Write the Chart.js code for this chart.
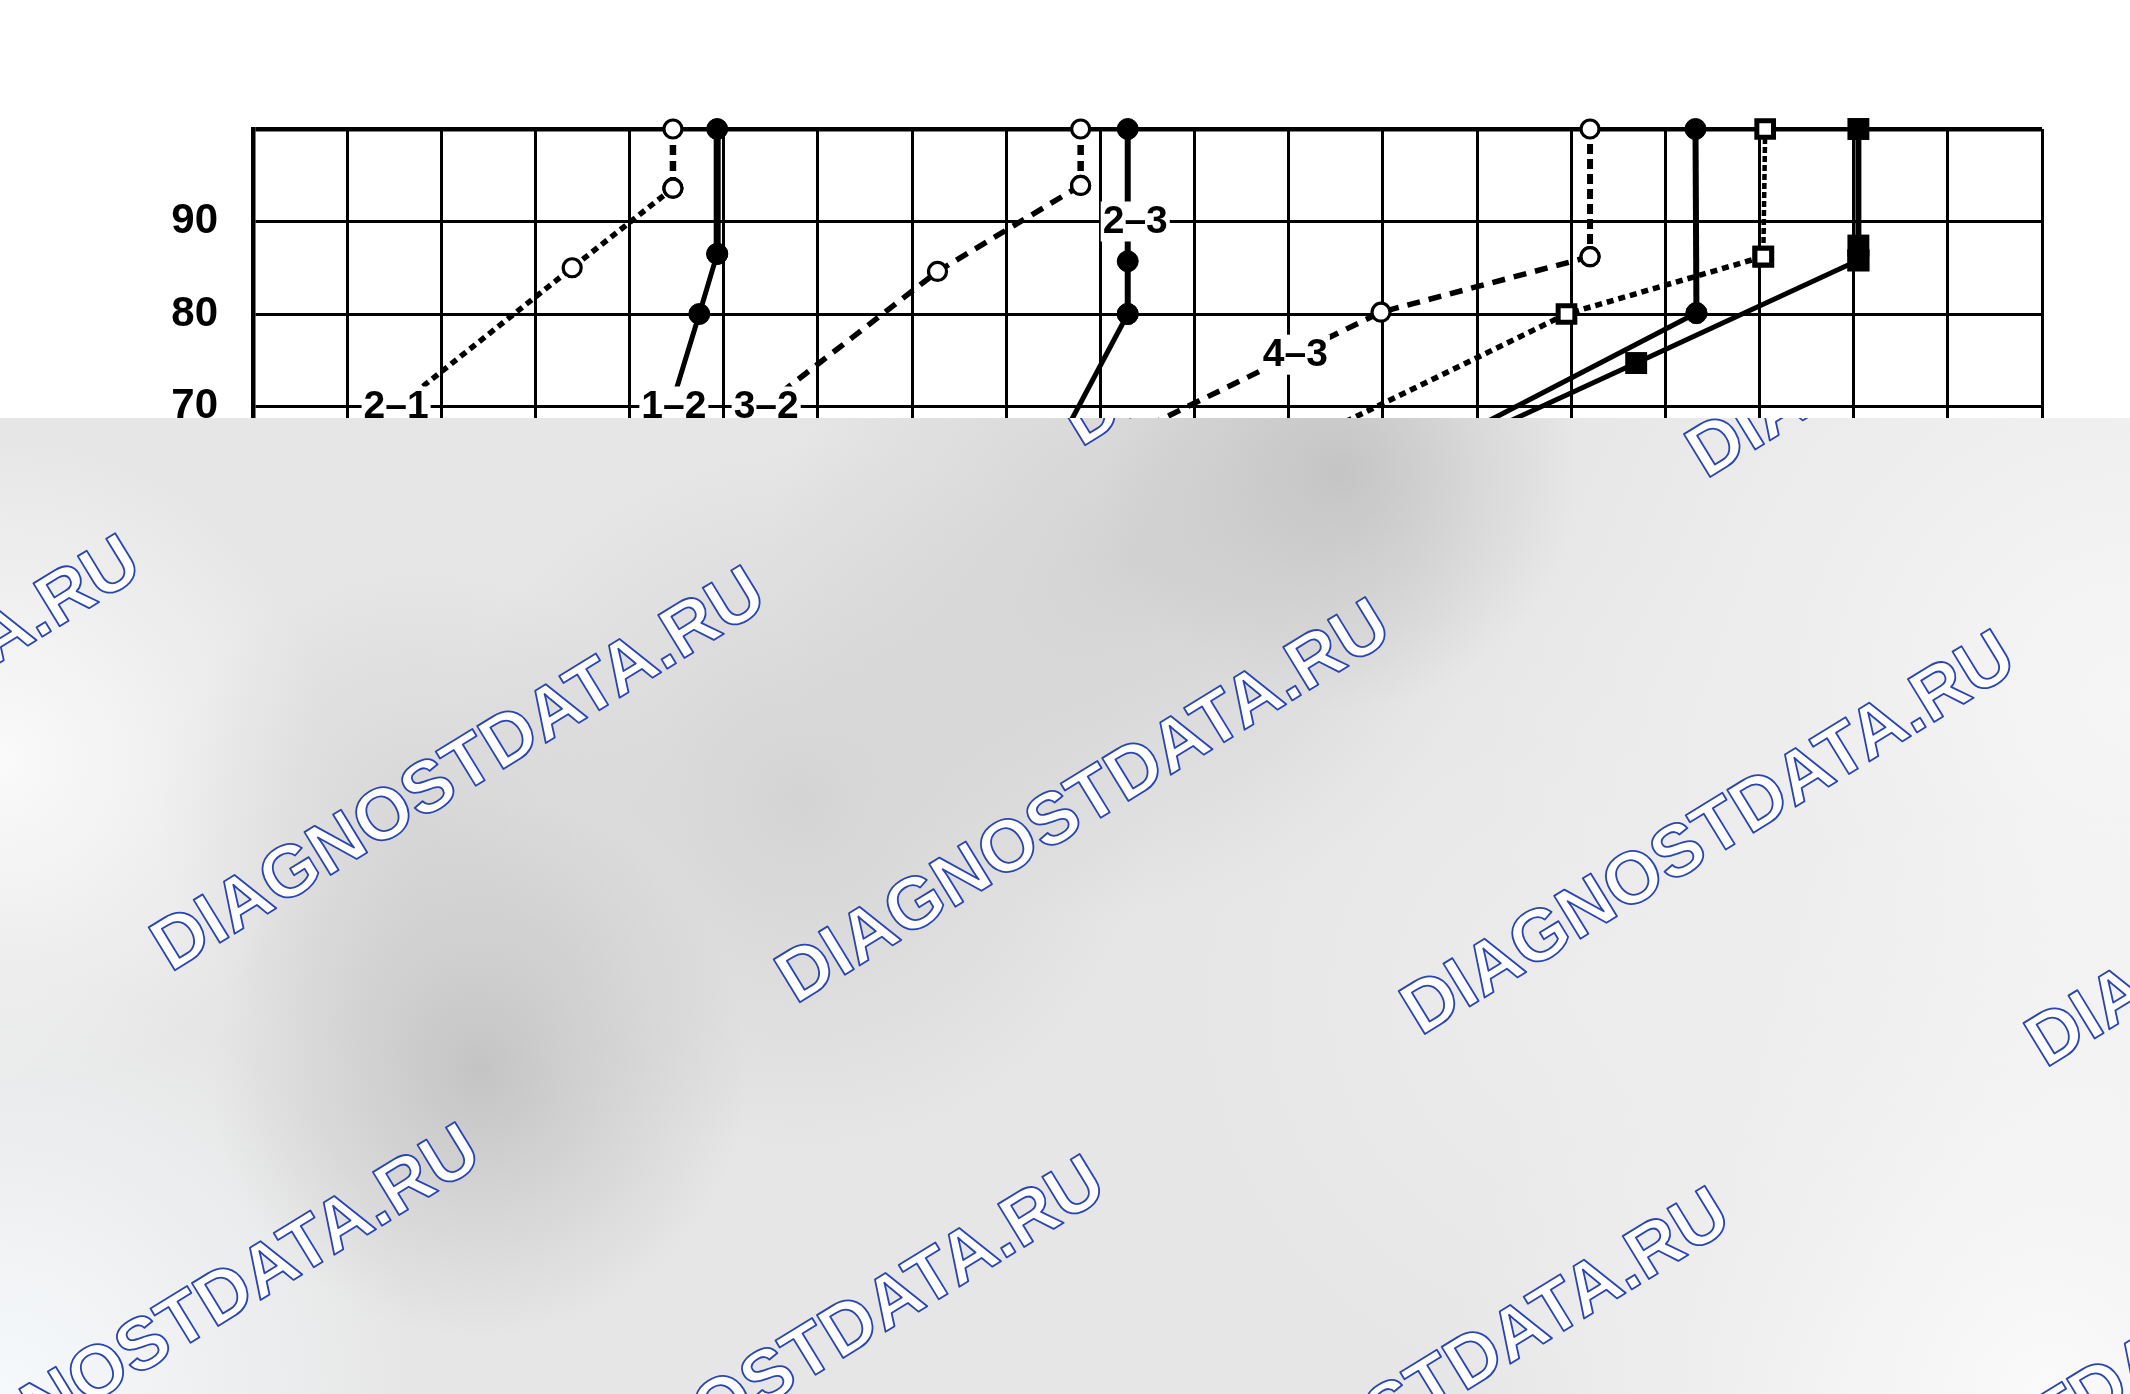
<!DOCTYPE html>
<html>
<head>
<meta charset="utf-8">
<script src="https://cdn.jsdelivr.net/npm/chart.js@4.4.1/dist/chart.umd.min.js"></script>
<style>
html,body{margin:0;padding:0;background:#ffffff;}
canvas{display:block;}
</style>
</head>
<body>
<canvas id="c" width="2130" height="1394"></canvas>
<script>
// ---- data (x: vehicle speed, y: throttle opening %) ----
const yTickValues = [0, 10, 20, 30, 40, 50, 60, 70, 80, 90, 100];
const xTickValues = [0, 10, 20, 30, 40, 50, 60, 70, 80, 90, 100, 110, 120, 130, 140, 150, 160, 170, 180, 190];

const down21X = [44.6, 44.6, 33.9, 10.4];
const down21Y = [100, 93.6, 85.0, 66];

const up12X = [49.3, 49.3, 47.4, 43.2];
const up12Y = [100, 86.5, 80.0, 66];

const down32X = [87.9, 87.9, 72.7, 49.1];
const down32Y = [100, 93.9, 84.6, 66];

const up23X = [92.9, 92.9, 92.9, 85.6];
const up23Y = [100, 85.7, 80.0, 66];

const down43X = [142.0, 142.0, 119.8, 91.2];
const down43Y = [100, 86.2, 80.2, 66];

const up34X = [153.2, 153.3, 126.6];
const up34Y = [100, 80.1, 66];

const openSqX = [160.6, 160.4, 139.5, 111.3];
const openSqY = [100, 86.2, 80.0, 66];

const fillSqX = [170.5, 170.5, 170.5, 146.9, 128.3];
const fillSqY = [100, 87.4, 85.8, 74.7, 66];

const labelTexts = ['2–1', '1–2', '3–2', '2–3', '4–3'];
const labelXs = [15.2, 44.7, 54.5, 93.7, 110.7];
const labelYs = [70, 70, 70, 90, 75.6];

const watermarkText = 'DIAGNOSTDATA.RU';

// ---- helpers ----
function pts(xs, ys) { return xs.map((x, i) => ({ x: x, y: ys[i] })); }

// one shift curve = a vertical (upper) part and a sloped tail part,
// drawn as two datasets so each keeps a single line style
function makeCurve(xs, ys, split, m, vStyle, tStyle) {
  const all = pts(xs, ys);
  const upper = all.slice(0, split + 1);
  const tail = all.slice(split);
  const base = {
    borderColor: '#000',
    fill: false,
    tension: 0,
    clip: false,
    pointStyle: m.style,
    pointBackgroundColor: m.open ? '#fff' : '#000',
    pointBorderColor: '#000',
    pointBorderWidth: m.pbw
  };
  return [
    Object.assign({}, base, {
      data: upper,
      borderWidth: vStyle.w,
      borderDash: vStyle.dash,
      pointRadius: m.r,
      pointHoverRadius: m.r
    }),
    Object.assign({}, base, {
      data: tail,
      borderWidth: tStyle.w,
      borderDash: tStyle.dash,
      pointRadius: tail.map((p, i) => (i === tail.length - 1 ? 0 : m.r)),
      pointHoverRadius: tail.map((p, i) => (i === tail.length - 1 ? 0 : m.r))
    })
  ];
}

const openCircle = { style: 'circle', r: 9, open: true, pbw: 3.2 };
const fullCircle = { style: 'circle', r: 10.5, open: false, pbw: 1 };
const openSquare = { style: 'rect', r: 11.8, open: true, pbw: 5 };
const fullSquare = { style: 'rect', r: 15.5, open: false, pbw: 0 };

const datasets = [].concat(
  makeCurve(down21X, down21Y, 1, openCircle, { w: 6.5, dash: [10, 6] }, { w: 5.5, dash: [7, 5] }),
  makeCurve(up12X, up12Y, 1, fullCircle, { w: 7, dash: [] }, { w: 5, dash: [] }),
  makeCurve(down32X, down32Y, 1, openCircle, { w: 6.5, dash: [10, 6] }, { w: 5.5, dash: [13, 9] }),
  makeCurve(up23X, up23Y, 2, fullCircle, { w: 6, dash: [] }, { w: 5, dash: [] }),
  makeCurve(down43X, down43Y, 1, openCircle, { w: 6, dash: [10, 5] }, { w: 5.5, dash: [13, 9] }),
  makeCurve(openSqX, openSqY, 1, openSquare, { w: 4.5, dash: [6, 3] }, { w: 5.5, dash: [7, 5] }),
  makeCurve(up34X, up34Y, 1, fullCircle, { w: 6, dash: [] }, { w: 5, dash: [] }),
  makeCurve(fillSqX, fillSqY, 2, fullSquare, { w: 6, dash: [] }, { w: 5, dash: [] })
);

// ---- plugins ----
const labelPlugin = {
  id: 'shiftLabels',
  afterDatasetsDraw(chart) {
    const { ctx, scales } = chart;
    ctx.save();
    ctx.font = 'bold 39px "Liberation Sans", Arial, sans-serif';
    ctx.textAlign = 'center';
    ctx.textBaseline = 'middle';
    labelTexts.forEach((t, i) => {
      const px = scales.x.getPixelForValue(labelXs[i]);
      const py = scales.y.getPixelForValue(labelYs[i]);
      const w = ctx.measureText(t).width;
      ctx.fillStyle = '#fff';
      ctx.fillRect(px - w / 2 - 2, py - 20, w + 4, 40);
      ctx.fillStyle = '#000';
      ctx.fillText(t, px, py + 1);
    });
    ctx.restore();
  }
};

const overlayPlugin = {
  id: 'overlay',
  afterDraw(chart) {
    const ctx = chart.ctx;
    const W = chart.width, H = chart.height, top = 418;
    ctx.save();
    ctx.beginPath();
    ctx.rect(0, top, W, H - top);
    ctx.clip();
    ctx.fillStyle = '#e6e6e6';
    ctx.fillRect(0, top, W, H - top);
    const blobs = [
      [2130, 700, 650, 'rgba(246,246,246,1)'],
      [2050, 1394, 600, 'rgba(250,250,250,1)'],
      [1600, 1000, 450, 'rgba(238,238,238,0.8)'],
      [0, 760, 330, 'rgba(250,250,250,1)'],
      [0, 1394, 420, 'rgba(246,249,252,1)'],
      [1130, 560, 360, 'rgba(202,202,202,0.7)'],
      [800, 800, 360, 'rgba(202,202,202,0.65)'],
      [420, 820, 260, 'rgba(205,205,205,0.6)'],
      [1338, 470, 240, 'rgba(192,192,192,0.85)'],
      [480, 1070, 270, 'rgba(190,190,190,0.85)']
    ];
    blobs.forEach(b => {
      const g = ctx.createRadialGradient(b[0], b[1], 0, b[0], b[1], b[2]);
      g.addColorStop(0, b[3]);
      g.addColorStop(1, b[3].replace(/[\d.]+\)$/, '0)'));
      ctx.fillStyle = g;
      ctx.fillRect(0, top, W, H - top);
    });
    // watermark lattice
    ctx.font = 'bold 73px "Liberation Sans", Arial, sans-serif';
    ctx.textAlign = 'center';
    ctx.textBaseline = 'middle';
    ctx.lineWidth = 1.8;
    ctx.lineJoin = 'round';
    ctx.strokeStyle = '#2a45b0';
    ctx.fillStyle = '#ffffff';
    for (let j = -1; j <= 2; j++) {
      for (let i = -2; i <= 4; i++) {
        const cx = 460 + 624.9 * i - 285.3 * j;
        const cy = 772 + 31.9 * i + 557 * j;
        if (cx < -500 || cx > W + 500 || cy < -300 || cy > H + 300) continue;
        ctx.save();
        ctx.translate(cx, cy);
        ctx.rotate(-31.5 * Math.PI / 180);
        ctx.fillText(watermarkText, 0, 0);
        ctx.strokeText(watermarkText, 0, 0);
        ctx.restore();
      }
    }
    ctx.restore();
  }
};

new Chart(document.getElementById('c'), {
  type: 'line',
  data: { datasets: datasets },
  options: {
    responsive: false,
    animation: false,
    devicePixelRatio: 1,
    layout: { padding: { left: 0, top: 129, right: 88, bottom: 0 } },
    plugins: { legend: { display: false }, tooltip: { enabled: false } },
    scales: {
      x: {
        type: 'linear',
        min: xTickValues[0],
        max: xTickValues[xTickValues.length - 1],
        afterBuildTicks: s => { s.ticks = xTickValues.map(v => ({ value: v })); },
        afterFit: s => { s.height = 340; },
        grid: { color: '#000', lineWidth: 3, drawTicks: false },
        border: { color: '#000', width: 3 },
        ticks: { color: '#000', padding: 14, font: { family: '"Liberation Sans", Arial, sans-serif', size: 42, weight: 'bold' } }
      },
      y: {
        type: 'linear',
        min: yTickValues[0],
        max: yTickValues[yTickValues.length - 1],
        afterBuildTicks: s => { s.ticks = yTickValues.map(v => ({ value: v })); },
        afterFit: s => { s.width = 253; },
        grid: { color: '#000', lineWidth: c => (c.tick && c.tick.value === 100 ? 4.5 : 3), drawTicks: false },
        border: { color: '#000', width: 4.5 },
        ticks: {
          color: '#000', padding: 35,
          font: { family: '"Liberation Sans", Arial, sans-serif', size: 42, weight: 'bold' },
          callback: v => (v === 100 ? '' : v)
        }
      }
    }
  },
  plugins: [labelPlugin, overlayPlugin]
});
</script>
</body>
</html>
